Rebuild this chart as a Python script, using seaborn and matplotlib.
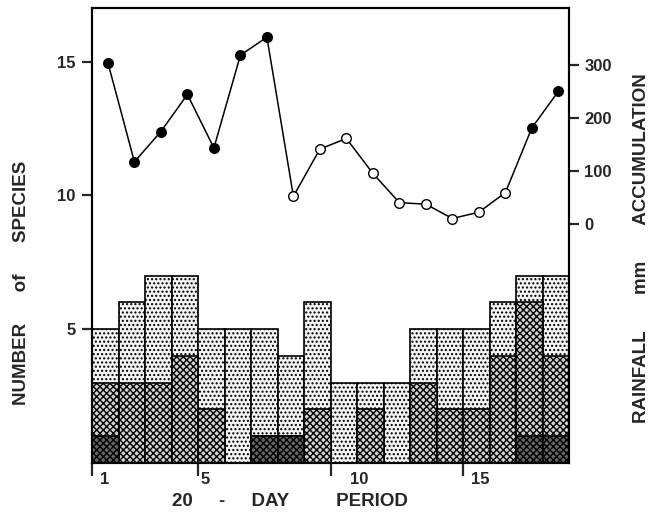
import numpy as np
import pandas as pd
import matplotlib
matplotlib.use("Agg")
import matplotlib.pyplot as plt
import seaborn as sns

periods = list(range(1, 19))
dark_species = [1, 0, 0, 0, 0, 0, 1, 1, 0, 0, 0, 0, 0, 0, 0, 0, 1, 1]
medium_species = [2, 3, 3, 4, 2, 0, 0, 0, 2, 0, 2, 0, 3, 2, 2, 4, 5, 3]
light_species = [2, 3, 4, 3, 3, 5, 4, 3, 4, 3, 1, 3, 2, 3, 3, 2, 1, 3]
rainfall_mm = [305, 118, 175, 245, 144, 319, 353, 53, 142, 162, 96, 41, 38, 11, 23, 60, 182, 251]
rain_filled = [True] * 7 + [False] * 9 + [True, True]
xtick_values = [1, 5, 10, 15]
xtick_labels = ["1", "5", "10", "15"]
left_ticks = [5, 10, 15]
right_ticks = [0, 100, 200, 300]

sns.set_theme(style="white")
plt.rcParams['font.family'] = ['Liberation Sans', 'DejaVu Sans']
plt.rcParams['hatch.linewidth'] = 1.0

fig = plt.figure(figsize=(6.53, 5.25), dpi=100)
ax = fig.add_axes([92 / 653, 1 - 463 / 525, (569 - 92) / 653, (463 - 8) / 525])

d = np.array(dark_species)
m = np.array(medium_species)
l = np.array(light_species)
centers = np.array(periods) + 0.5
df = pd.DataFrame({"x": centers, "total": d + m + l, "dm": d + m, "d": d})

layers = [("total", "....", "#f4f4f4"), ("dm", "xxxxx", "#d2d2d2"), ("d", "xxxxx", "#666666")]
for col, hatch, fc in layers:
    n_before = len(ax.patches)
    sns.barplot(data=df, x="x", y=col, native_scale=True, width=1.0, ax=ax,
                color=fc, edgecolor="black", linewidth=1.2, saturation=1)
    for p in ax.patches[n_before:]:
        p.set_hatch(hatch)
        p.set_facecolor(fc)
        p.set_edgecolor("black")

ax.set_xlim(1, 19)
ax.set_ylim(0, 17)
# major ticks (marks only) and shifted minor ticks carrying the labels
ax.set_xticks(xtick_values)
ax.set_xticklabels([])
label_shift = [0.3, 0.11, 0.72, 0.3]
ax.set_xticks([v + s for v, s in zip(xtick_values, label_shift)], xtick_labels, minor=True)
for lab in ax.get_xticklabels(minor=True):
    lab.set_horizontalalignment("left")
    lab.set_fontsize(12)
    lab.set_fontweight("bold")
ax.tick_params(axis="x", which="major", direction="out", length=9, width=1.6, bottom=True)
ax.tick_params(axis="x", which="minor", length=0, pad=6.5, bottom=True)
ax.set_yticks(left_ticks)
ax.set_yticklabels([str(t) for t in left_ticks], fontsize=12, fontweight="bold")
ax.tick_params(axis="y", direction="out", length=7, width=1.6, pad=5, left=True)
ax.set_xlabel("")
ax.set_ylabel("")
for s in ax.spines.values():
    s.set_linewidth(1.5)
    s.set_color("black")

# rainfall axis
ax2 = ax.twinx()
rx = np.array(periods) + 0.6
ax2.set_ylim(-450, 408)
sns.lineplot(x=rx, y=rainfall_mm, ax=ax2, color="black", linewidth=1.1)
filled = np.array(rain_filled)
rr = np.array(rainfall_mm)
sns.scatterplot(x=rx[filled], y=rr[filled], ax=ax2, color="black", edgecolor="black",
                s=48, linewidth=1, zorder=5)
sns.scatterplot(x=rx[~filled], y=rr[~filled], ax=ax2, color="white", edgecolor="black",
                s=48, linewidth=1, zorder=5)
ax2.set_yticks(right_ticks)
ax2.set_yticklabels([str(t) for t in right_ticks], fontsize=12, fontweight="bold")
ax2.tick_params(axis="y", direction="out", length=7, width=1.6, pad=4, right=True)
ax2.set_ylabel("")
ax2.set_xlim(1, 19)
for s in ax2.spines.values():
    s.set_linewidth(1.5)
    s.set_color("black")

fig.text(22 / 653, 1 - 283 / 525, "NUMBER      of      SPECIES", rotation=90,
         ha="center", va="center", fontsize=13.5, fontweight="bold")
fig.text(641 / 653, 1 - 248 / 525, "RAINFALL       mm       ACCUMULATION", rotation=90,
         ha="center", va="center", fontsize=13.5, fontweight="bold")
fig.text(290 / 653, 1 - 501 / 525, "20     -     DAY         PERIOD", ha="center", va="center",
         fontsize=13.5, fontweight="bold")

fig.savefig("out.png", dpi=100)
